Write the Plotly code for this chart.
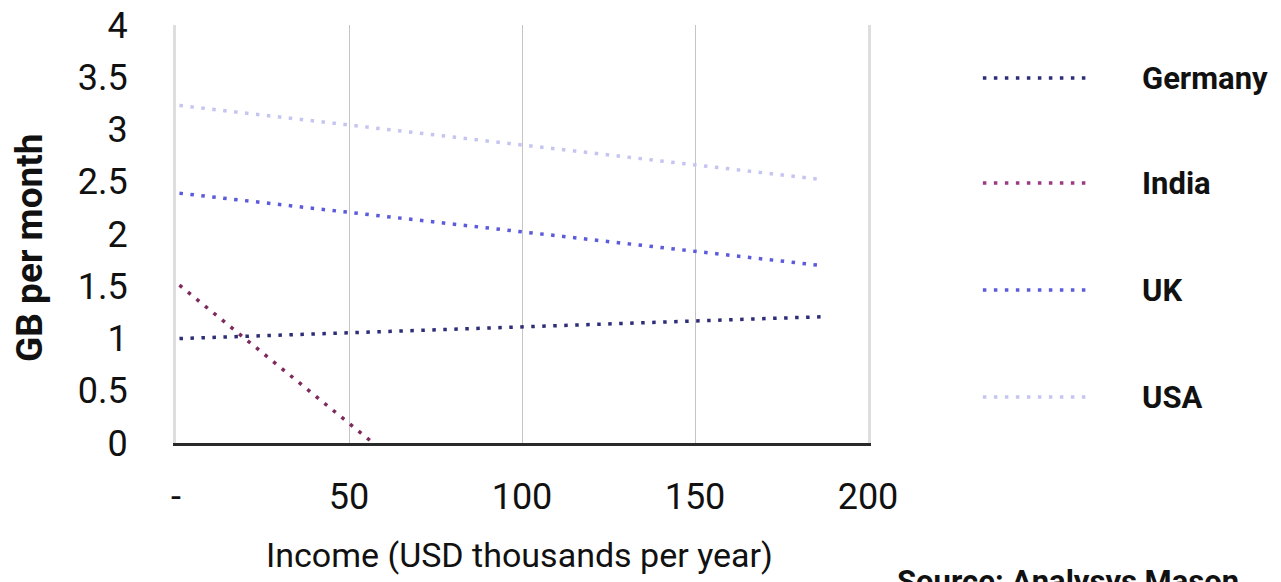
import plotly.graph_objects as go

countries = ["Germany", "India", "UK", "USA"]
income_start = [1, 1, 1, 1]
income_end = [188, 57, 186, 187]
gb_start = [1.00, 1.51, 2.39, 3.23]
gb_end = [1.21, 0.00, 1.70, 2.52]
colors = ["#2d2d78", "#7d2a5c", "#5b5bdc", "#c5c5f2"]
legend_colors = ["#2d2d78", "#9a3a84", "#5b5bdc", "#c5c5f2"]

x_ticks = [0, 50, 100, 150, 200]
x_tick_labels = ["-", "50", "100", "150", "200"]
y_ticks = [0, 0.5, 1, 1.5, 2, 2.5, 3, 3.5, 4]
y_tick_labels = ["0", "0.5", "1", "1.5", "2", "2.5", "3", "3.5", "4"]

FONT = "Roboto, sans-serif"
DASH = "3.5px,7.5px"

fig = go.Figure()
for name, xs, xe, ys, ye, c in zip(countries, income_start, income_end, gb_start, gb_end, colors):
    fig.add_trace(go.Scatter(
        x=[xs, xe], y=[ys, ye], mode="lines", name=name,
        line=dict(color=c, width=3.5, dash=DASH), showlegend=False,
        hoverinfo="x+y+name",
    ))

# manual legend (long sample lines like the original)
leg_y = [0.873, 0.622, 0.366, 0.110]
for name, c, ly in zip(countries, legend_colors, leg_y):
    fig.add_shape(type="line", xref="paper", yref="paper",
                  x0=1.166, x1=1.324, y0=ly, y1=ly,
                  line=dict(color=c, width=3.5, dash=DASH))
    fig.add_annotation(text="<b>" + name + "</b>", xref="paper", yref="paper",
                       x=1.393, y=ly, xanchor="left", yanchor="middle",
                       showarrow=False, font=dict(family=FONT, size=31, color="#111"))

fig.add_annotation(text="<b>GB per month</b>", xref="paper", yref="paper",
                   x=-0.211, y=0.469, textangle=-90, showarrow=False,
                   xanchor="center", yanchor="middle",
                   font=dict(family=FONT, size=37, color="#111"))
fig.add_annotation(text="Income (USD thousands per year)", xref="paper", yref="paper",
                   x=0.497, y=-0.268, showarrow=False,
                   xanchor="center", yanchor="middle",
                   font=dict(family=FONT, size=34, color="#111"))
fig.add_annotation(text="<b>Source: Analysys Mason</b>", xref="paper", yref="paper",
                   x=1.039, y=-0.283, showarrow=False,
                   xanchor="left", yanchor="top",
                   font=dict(family=FONT, size=31, color="#111"))

fig.update_layout(
    width=1273, height=574,
    margin=dict(l=168, r=413, t=17, b=139),
    paper_bgcolor="white", plot_bgcolor="white",
    font=dict(family=FONT, size=36, color="#111"),
    xaxis=dict(range=[0, 200], tickvals=x_ticks, ticktext=x_tick_labels,
               showgrid=True, gridcolor="#c4c4c4", gridwidth=1,
               zeroline=False, showline=True, linecolor="#2a2a2a", linewidth=3,
               ticks="", ticklabelstandoff=20, ticklabeloverflow="allow",
               automargin=False, fixedrange=True),
    yaxis=dict(range=[0, 4], tickvals=y_ticks, ticktext=y_tick_labels,
               showgrid=False, zeroline=False,
               showline=True, linecolor="#dedede", linewidth=3, mirror=True,
               ticks="", ticklabelstandoff=38, ticklabeloverflow="allow",
               automargin=False, fixedrange=True),
)

fig.write_html("out.html")
